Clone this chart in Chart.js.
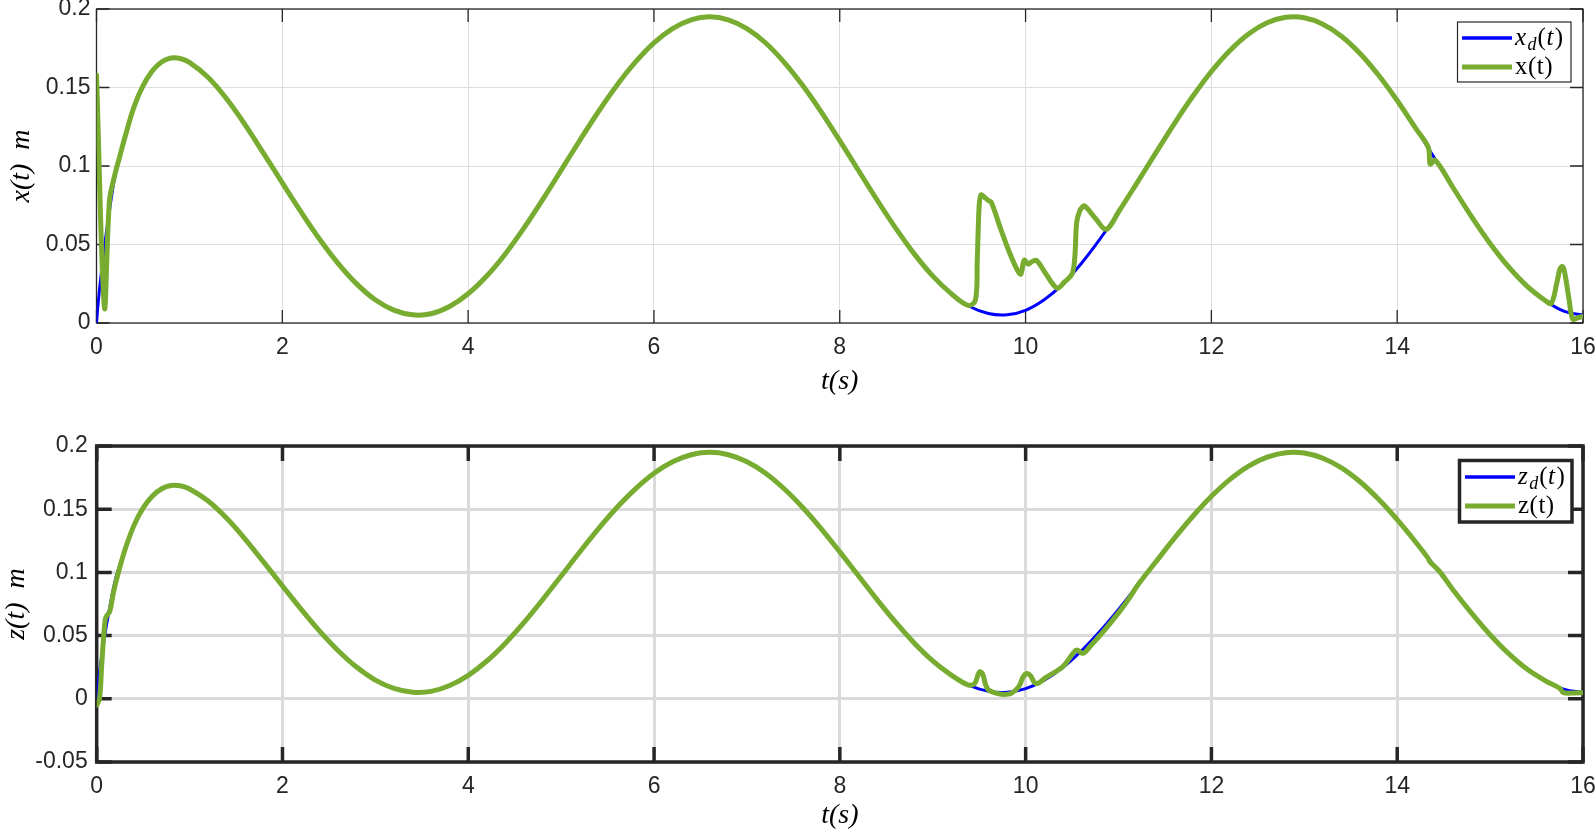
<!DOCTYPE html>
<html><head><meta charset="utf-8">
<script src="https://cdn.jsdelivr.net/npm/chart.js@4.4.1/dist/chart.umd.min.js"></script>
<style>
html,body{margin:0;padding:0;background:#fff;overflow:hidden;}
.box{position:absolute;left:0;width:1596px;height:416px;}
#b1{top:0} #b2{top:416px}
canvas{display:block}
</style></head><body>
<div class="box" id="b1"><canvas id="c1" width="1596" height="416"></canvas></div>
<div class="box" id="b2"><canvas id="c2" width="1596" height="416"></canvas></div>
<script>
// ---- data ----
const tDes = [0,0.02,0.05,0.1,0.15,0.2,0.25,0.3,0.4,0.5,0.6,0.7,0.8,0.9,1.0,
  1.2,1.4,1.6,1.8,2.0,2.2,2.4,2.6,2.8,3.0,
  3.2,3.4,3.6,3.8,4.0,4.2,4.4,4.6,4.8,5.0,
  5.2,5.4,5.6,5.8,6.0,6.2,6.4,6.6,6.8,7.0,
  7.2,7.4,7.6,7.8,8.0,8.2,8.4,8.6,8.8,9.0,
  9.2,9.4,9.6,9.8,10.0,10.2,10.4,10.6,10.8,11.0,
  11.2,11.4,11.6,11.8,12.0,12.2,12.4,12.6,12.8,13.0,
  13.2,13.4,13.6,13.8,14.0,14.2,14.4,14.6,14.8,15.0,
  15.2,15.4,15.6,15.8,16.0];
const xDes = [0,0.014,0.031,0.055,0.076,0.094,0.106,0.117,0.137,0.151,0.1605,0.1662,0.1688,0.1685,0.1660,
  0.1565,0.1428,0.1262,0.1079,0.0893,0.0709,0.0535,0.0380,0.0249,0.0148,
  0.0082,0.0052,0.0059,0.0105,0.0186,0.0299,0.0440,0.0604,0.0784,0.0972,
  0.1161,0.1344,0.1513,0.1661,0.1784,0.1875,0.1931,0.1950,0.1931,0.1875,
  0.1785,0.1662,0.1514,0.1345,0.1162,0.0973,0.0785,0.0606,0.0442,0.0300,
  0.0187,0.0105,0.0060,0.0052,0.0081,0.0148,0.0248,0.0379,0.0534,0.0707,
  0.0893,0.1082,0.1269,0.1444,0.1602,0.1736,0.1841,0.1912,0.1947,0.1944,
  0.1903,0.1827,0.1717,0.1578,0.1417,0.1239,0.1052,0.0863,0.0678,0.0507,
  0.0357,0.0233,0.0140,0.0074,0.0050];
const zDes = [0,0.015,0.032,0.056,0.076,0.094,0.106,0.117,0.137,0.151,0.1605,0.1662,0.1688,0.1685,0.1660,
  0.1565,0.1428,0.1262,0.1079,0.0893,0.0709,0.0535,0.0380,0.0249,0.0148,
  0.0082,0.0052,0.0059,0.0105,0.0186,0.0299,0.0440,0.0604,0.0784,0.0972,
  0.1161,0.1344,0.1513,0.1661,0.1784,0.1875,0.1931,0.1950,0.1931,0.1875,
  0.1785,0.1662,0.1514,0.1345,0.1162,0.0973,0.0785,0.0606,0.0442,0.0300,
  0.0187,0.0105,0.0060,0.0052,0.0081,0.0148,0.0248,0.0379,0.0534,0.0707,
  0.0893,0.1082,0.1269,0.1444,0.1602,0.1736,0.1841,0.1912,0.1947,0.1944,
  0.1903,0.1827,0.1717,0.1578,0.1417,0.1239,0.1052,0.0863,0.0678,0.0507,
  0.0357,0.0233,0.0140,0.0074,0.0050];

const tXAct = [0,0.085,0.14,0.2,0.25,0.3,0.4,0.5,0.6,0.7,0.8,0.9,1.0,
  1.2,1.4,1.6,1.8,2.0,2.2,2.4,2.6,2.8,3.0,
  3.2,3.4,3.6,3.8,4.0,4.2,4.4,4.6,4.8,5.0,
  5.2,5.4,5.6,5.8,6.0,6.2,6.4,6.6,6.8,7.0,
  7.2,7.4,7.6,7.8,8.0,8.2,8.4,8.6,8.8,9.0,
  9.2,9.38,9.46,9.48,9.5,9.52,9.56,9.6,9.63,9.73,
  9.83,9.92,9.95,9.985,10.03,10.07,10.12,10.22,10.34,10.42,
  10.5,10.53,10.55,10.58,10.61,10.64,10.75,10.87,11.0,11.2,
  11.4,11.6,11.8,12.0,12.2,12.4,12.6,12.8,13.0,13.2,
  13.4,13.6,13.8,14.0,14.2,14.335,14.355,14.41,14.6,14.8,
  15.0,15.2,15.4,15.6,15.66,15.72,15.75,15.775,15.8,15.85,
  15.89,15.95,16.0];
const xAct = [0.158,0.010,0.078,0.095,0.106,0.117,0.137,0.151,0.1605,0.1662,0.1688,0.1685,0.1660,
  0.1565,0.1428,0.1262,0.1079,0.0893,0.0709,0.0535,0.0380,0.0249,0.0148,
  0.0082,0.0052,0.0059,0.0105,0.0186,0.0299,0.0440,0.0604,0.0784,0.0972,
  0.1161,0.1344,0.1513,0.1661,0.1784,0.1875,0.1931,0.1950,0.1931,0.1875,
  0.1785,0.1662,0.1514,0.1345,0.1162,0.0973,0.0785,0.0606,0.0442,0.0300,
  0.0187,0.0112,0.0145,0.0400,0.0740,0.0815,0.0800,0.0780,0.0770,0.0603,
  0.0444,0.0327,0.0312,0.0400,0.0375,0.0392,0.0397,0.0312,0.0222,0.0262,
  0.0312,0.0420,0.0640,0.0710,0.0738,0.0745,0.0668,0.0597,0.0707,0.0893,
  0.1082,0.1269,0.1444,0.1602,0.1736,0.1841,0.1912,0.1947,0.1944,0.1903,
  0.1827,0.1717,0.1578,0.1417,0.1239,0.1118,0.1012,0.1036,0.0863,0.0678,
  0.0507,0.0357,0.0233,0.0140,0.0125,0.0260,0.0340,0.0360,0.0330,0.0150,
  0.0025,0.0035,0.0042];

const tZAct = [0,0.03,0.055,0.09,0.11,0.14,0.18,0.23,0.3,0.4,0.5,0.6,0.7,0.8,0.9,1.0,
  1.2,1.4,1.6,1.8,2.0,2.2,2.4,2.6,2.8,3.0,
  3.2,3.4,3.6,3.8,4.0,4.2,4.4,4.6,4.8,5.0,
  5.2,5.4,5.6,5.8,6.0,6.2,6.4,6.6,6.8,7.0,
  7.2,7.4,7.6,7.8,8.0,8.2,8.4,8.6,8.8,9.0,
  9.2,9.38,9.45,9.49,9.51,9.54,9.57,9.6,9.68,9.76,
  9.85,9.93,9.97,10.01,10.05,10.1,10.14,10.2,10.4,10.51,
  10.55,10.62,10.7,10.82,11.0,11.12,11.2,11.4,11.6,11.8,
  12.0,12.2,12.4,12.6,12.8,13.0,13.2,13.4,13.6,13.8,
  14.0,14.2,14.33,14.35,14.37,14.46,14.6,14.8,15.0,15.2,
  15.4,15.6,15.75,15.79,15.9,16.0];
const zAct = [-0.005,0.000,0.028,0.062,0.066,0.069,0.084,0.099,0.117,0.137,0.151,0.1605,0.1662,0.1688,0.1685,0.1660,
  0.1565,0.1428,0.1262,0.1079,0.0893,0.0709,0.0535,0.0380,0.0249,0.0148,
  0.0082,0.0052,0.0059,0.0105,0.0186,0.0299,0.0440,0.0604,0.0784,0.0972,
  0.1161,0.1344,0.1513,0.1661,0.1784,0.1875,0.1931,0.1950,0.1931,0.1875,
  0.1785,0.1662,0.1514,0.1345,0.1162,0.0973,0.0785,0.0606,0.0442,0.0300,
  0.0187,0.0110,0.0120,0.0195,0.0215,0.0190,0.0110,0.0070,0.0045,0.0035,
  0.0045,0.0100,0.0170,0.0200,0.0185,0.0125,0.0125,0.0160,0.0255,0.0360,
  0.0386,0.0360,0.0420,0.0518,0.0680,0.0800,0.0893,0.1082,0.1269,0.1444,
  0.1602,0.1736,0.1841,0.1912,0.1947,0.1944,0.1903,0.1827,0.1717,0.1578,
  0.1417,0.1239,0.1115,0.1085,0.1070,0.1004,0.0863,0.0678,0.0507,0.0357,
  0.0233,0.0140,0.0083,0.0049,0.0046,0.0048];

const xTickLabels = ['0','2','4','6','8','10','12','14','16'];
const yTickLabelsTop = ['0','0.05','0.1','0.15','0.2'];
const yTickLabelsBot = ['-0.05','0','0.05','0.1','0.15','0.2'];
const legendTop = ['x_d(t)','x(t)'];
const legendBot = ['z_d(t)','z(t)'];
const xTitle = 't(s)';
const yTitleTop = 'x(t)  m';
const yTitleBot = 'z(t)  m';

// ---- plugins ----
const framePlugin = {
  id: 'frame',
  beforeDatasetsDraw(chart, args, o) {
    const {ctx, chartArea: a, scales} = chart;
    ctx.save();
    ctx.strokeStyle = o.color; ctx.lineWidth = o.width; ctx.lineCap = 'butt';
    ctx.beginPath();
    scales.x.ticks.forEach(t => {
      const p = scales.x.getPixelForValue(t.value);
      ctx.moveTo(p, a.bottom); ctx.lineTo(p, a.bottom - o.len);
      ctx.moveTo(p, a.top); ctx.lineTo(p, a.top + o.len);
    });
    scales.y.ticks.forEach(t => {
      const p = scales.y.getPixelForValue(t.value);
      ctx.moveTo(a.left, p); ctx.lineTo(a.left + o.len, p);
      ctx.moveTo(a.right, p); ctx.lineTo(a.right - o.len, p);
    });
    ctx.stroke();
    ctx.strokeRect(a.left, a.top, a.right - a.left, a.bottom - a.top);
    ctx.restore();
  }
};

function drawLabel(ctx, s, x, y, size) {
  const fam = '"Liberation Serif", "Times New Roman", serif';
  const math = s.indexOf('_') >= 0;
  const base = y + size * 0.27;
  ctx.fillStyle = '#000';
  ctx.textBaseline = 'alphabetic';
  ctx.textAlign = 'left';
  let i = 0;
  while (i < s.length) {
    const ch = s[i];
    if (ch === '_') {
      const c = s[i + 1];
      ctx.font = 'italic ' + Math.round(size * 0.72) + 'px ' + fam;
      ctx.fillText(c, x, base + size * 0.2);
      x += ctx.measureText(c).width + 1;
      i += 2; continue;
    }
    const it = math && /[a-z]/i.test(ch);
    ctx.font = (it ? 'italic ' : '') + size + 'px ' + fam;
    ctx.fillText(ch, x, base);
    x += ctx.measureText(ch).width + (it ? 1.5 : 0.5);
    i++;
  }
}

const boxLegendPlugin = {
  id: 'boxLegend',
  afterDraw(chart, args, o) {
    const ctx = chart.ctx;
    ctx.save();
    ctx.fillStyle = '#fff';
    ctx.fillRect(o.left, o.top, o.right - o.left, o.bottom - o.top);
    ctx.strokeStyle = '#262626'; ctx.lineWidth = o.borderWidth;
    ctx.strokeRect(o.left, o.top, o.right - o.left, o.bottom - o.top);
    chart.data.datasets.forEach((ds, i) => {
      const y = o.rows[i];
      ctx.strokeStyle = ds.borderColor; ctx.lineWidth = o.lineWidths[i];
      ctx.beginPath(); ctx.moveTo(o.lineX1, y); ctx.lineTo(o.lineX2, y); ctx.stroke();
      drawLabel(ctx, ds.label, o.textX, y, o.fontSize);
    });
    ctx.restore();
  }
};

const tickFont = {family: '"Liberation Sans", Arial, Helvetica, sans-serif', size: 23};
const titleFont = {family: '"Liberation Serif", "Times New Roman", serif', size: 28, style: 'italic'};

function pts(ts, vs) { return ts.map((t, i) => ({x: t, y: vs[i]})); }

function makeChart(id, cfg) {
  return new Chart(document.getElementById(id), {
    type: 'line',
    data: {
      datasets: [
        {label: cfg.labels[0], data: pts(tDes, cfg.des), borderColor: '#0000FF', borderWidth: 3,
         pointRadius: 0, tension: 0.4, borderJoinStyle: 'round', borderCapStyle: 'round', order: 1},
        {label: cfg.labels[1], data: pts(cfg.tAct, cfg.act), borderColor: '#77AC30', borderWidth: 5,
         pointRadius: 0, tension: 0.35, borderJoinStyle: 'round', borderCapStyle: 'round', order: 0}
      ]
    },
    options: {
      responsive: false, animation: false, devicePixelRatio: 1,
      layout: {padding: {top: cfg.padTop, right: 13, left: 0, bottom: 0}},
      plugins: {
        legend: {display: false}, tooltip: {enabled: false},
        frame: cfg.frame, boxLegend: cfg.legend
      },
      scales: {
        x: {
          type: 'linear', min: 0, max: 16,
          ticks: {stepSize: 2, autoSkip: false, maxRotation: 0, font: tickFont, color: '#262626',
                  padding: 11, callback: v => xTickLabels[Math.round(v / 2)]},
          grid: {color: cfg.gridColor, lineWidth: cfg.gridWidth, drawTicks: false},
          border: {display: false},
          title: {display: true, text: xTitle, font: titleFont, color: '#000',
                  padding: {top: 0, bottom: cfg.xTitlePad}},
          afterFit(s) { s.height = cfg.xHeight; s.paddingLeft = 0; s.paddingRight = 0; }
        },
        y: {
          type: 'linear', min: cfg.yMin, max: 0.2,
          ticks: {stepSize: 0.05, font: tickFont, color: '#262626', padding: cfg.yTickPad,
                  callback: v => cfg.yLabels[Math.round((v - cfg.yMin) / 0.05)]},
          grid: {color: cfg.gridColor, lineWidth: cfg.gridWidth, drawTicks: false},
          border: {display: false},
          title: {display: true, text: cfg.yTitle, font: titleFont, color: '#000',
                  padding: {top: cfg.yTitlePad, bottom: 0}},
          afterFit(s) { s.width = cfg.yWidth; s.paddingTop = 0; s.paddingBottom = 0; }
        }
      }
    },
    plugins: [framePlugin, boxLegendPlugin]
  });
}

makeChart('c1', {
  labels: legendTop, des: xDes, tAct: tXAct, act: xAct,
  padTop: 9, yMin: 0, yLabels: yTickLabelsTop, yTitle: yTitleTop,
  gridColor: '#dedede', gridWidth: 1, xHeight: 93, xTitlePad: 18, yWidth: 96.5,
  yTickPad: 6, yTitlePad: 5,
  frame: {color: '#262626', width: 1.3, len: 13},
  legend: {left: 1457.5, top: 22, right: 1571, bottom: 82, borderWidth: 1.2,
           lineX1: 1462, lineX2: 1512, rows: [38, 67], lineWidths: [3.5, 5], textX: 1515, fontSize: 25}
});

makeChart('c2', {
  labels: legendBot, des: zDes, tAct: tZAct, act: zAct,
  padTop: 30, yMin: -0.05, yLabels: yTickLabelsBot, yTitle: yTitleBot,
  gridColor: '#dadada', gridWidth: 3, xHeight: 70, xTitlePad: 0, yWidth: 96.7,
  yTickPad: 9, yTitlePad: 0,
  frame: {color: '#262626', width: 3.5, len: 15},
  legend: {left: 1459.5, top: 44.5, right: 1572, bottom: 106, borderWidth: 3.5,
           lineX1: 1465, lineX2: 1515, rows: [61, 90], lineWidths: [3.5, 5], textX: 1518, fontSize: 25}
});
</script>
</body></html>
